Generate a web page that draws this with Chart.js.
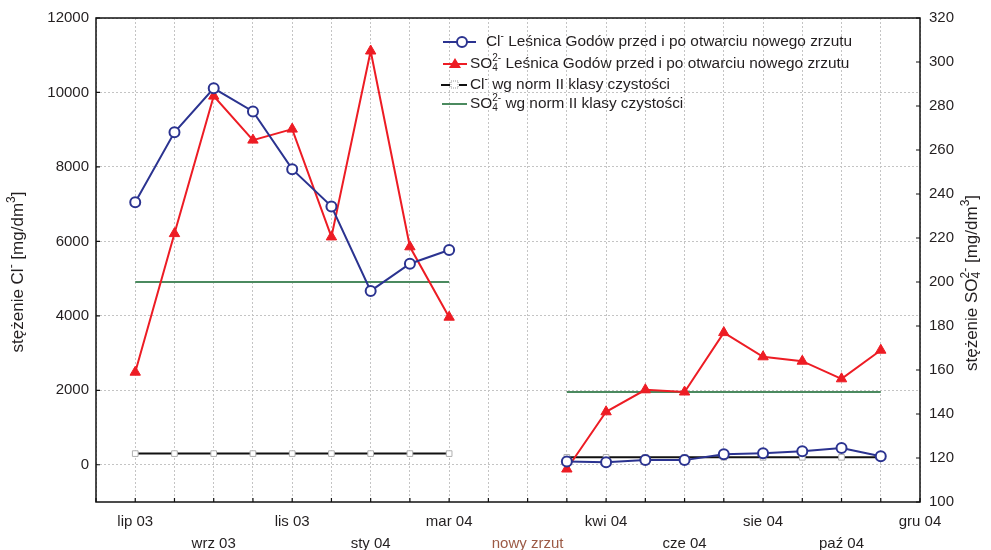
<!DOCTYPE html>
<html lang="pl">
<head>
<meta charset="utf-8">
<title>Leśnica Godów – Cl i SO4</title>
<script src="https://cdn.jsdelivr.net/npm/chart.js@4.4.1/dist/chart.umd.min.js"></script>
<style>
  html, body { margin: 0; padding: 0; background: #fff; }
  #wrap { width: 991px; height: 550px; }
</style>
</head>
<body>
<div id="wrap"><canvas id="chart" width="991" height="550"></canvas></div>
<script>
/* month slots on the x axis: 0 = lip 03 ... 8 = mar 04, 11..19 after the new discharge */
const xBefore = [0, 1, 2, 3, 4, 5, 6, 7, 8];
const xAfter = [11, 12, 13, 14, 15, 16, 17, 18, 19];

/* Cl- [mg/dm3], left axis */
const clBefore = [7050, 8930, 10110, 9490, 7940, 6940, 4670, 5400, 5770];
const clAfter = [90, 70, 130, 125, 280, 310, 360, 450, 230];

/* SO4 2- [mg/dm3], right axis */
const so4Before = [159, 222, 284.5, 264.5, 269.5, 220.5, 305, 216, 184];
const so4After = [115, 141, 151, 150, 177, 166, 164, 156, 169];

/* norm values (class II) */
const clNorm = [300, 200];
const so4Norm = [200, 150];

/* bottom tick labels */
const tickPos = [0, 2, 4, 6, 8, 10, 12, 14, 16, 18, 20];
const tickText = ["lip 03", "wrz 03", "lis 03", "sty 04", "mar 04", "nowy zrzut",
                  "kwi 04", "cze 04", "sie 04", "paź 04", "gru 04"];

const leftTicks = [0, 2000, 4000, 6000, 8000, 10000, 12000];

const FONT = "'Liberation Sans', Arial, sans-serif";
const TXT = "#231f20";
const BLUE = "#2b3390";
const RED = "#ed1c24";
const GREEN = "#4b8a5f";
const BLACK = "#111";

function joinHalves(xa, ya, xb, yb) {
  const pts = xa.map((x, i) => ({ x, y: ya[i] }));
  pts.push({ x: 9.5, y: null });
  return pts.concat(xb.map((x, i) => ({ x, y: yb[i] })));
}
function flat(xa, va, xb, vb) {
  return joinHalves(xa, xa.map(() => va), xb, xb.map(() => vb));
}

/* draw text with super/subscripts; parts: {t}, {sup}, {sub, sup} */
function richWidth(ctx, parts, size) {
  let w = 0;
  for (const p of parts) {
    if (p.t !== undefined) { ctx.font = size + "px " + FONT; w += ctx.measureText(p.t).width; }
    else {
      ctx.font = Math.round(size * 0.68) + "px " + FONT;
      w += Math.max(ctx.measureText(p.sup || "").width, ctx.measureText(p.sub || "").width);
    }
  }
  return w;
}
function drawRich(ctx, parts, x, y, size) {
  ctx.textBaseline = "middle";
  ctx.textAlign = "left";
  for (const p of parts) {
    if (p.t !== undefined) {
      ctx.font = size + "px " + FONT;
      ctx.fillText(p.t, x, y);
      x += ctx.measureText(p.t).width;
    } else {
      ctx.font = Math.round(size * 0.68) + "px " + FONT;
      let w = 0;
      if (p.sup) { ctx.fillText(p.sup, x, y - size * 0.38); w = ctx.measureText(p.sup).width; }
      if (p.sub) { ctx.fillText(p.sub, x, y + size * 0.3); w = Math.max(w, ctx.measureText(p.sub).width); }
      x += w;
    }
  }
  return x;
}

const leftTitle = [{ t: "stężenie Cl" }, { sup: "-" }, { t: " [mg/dm" }, { sup: "3" }, { t: "]" }];
const rightTitle = [{ t: "stężenie SO" }, { sub: "4", sup: "2-" }, { t: " [mg/dm" }, { sup: "3" }, { t: "]" }];
const legendRows = [
  [{ t: "Cl" }, { sup: "-" }, { t: " Leśnica Godów przed i po otwarciu nowego zrzutu" }],
  [{ t: "SO" }, { sub: "4", sup: "2-" }, { t: " Leśnica Godów przed i po otwarciu nowego zrzutu" }],
  [{ t: "Cl" }, { sup: "-" }, { t: " wg norm II klasy czystości" }],
  [{ t: "SO" }, { sub: "4", sup: "2-" }, { t: " wg norm II klasy czystości" }]
];

const decor = {
  id: "decor",
  afterDraw(chart) {
    const ctx = chart.ctx;
    const a = chart.chartArea;
    const { x, y, y1 } = chart.scales;
    ctx.save();
    // frame
    ctx.strokeStyle = BLACK;
    ctx.lineWidth = 1.5;
    ctx.strokeRect(a.left, a.top, a.right - a.left, a.bottom - a.top);
    // inward ticks
    ctx.lineWidth = 1.2;
    ctx.beginPath();
    for (let i = -1; i <= 20; i++) {
      const px = x.getPixelForValue(i);
      ctx.moveTo(px, a.bottom); ctx.lineTo(px, a.bottom - 4);
    }
    leftTicks.forEach(v => {
      const py = y.getPixelForValue(v);
      ctx.moveTo(a.left, py); ctx.lineTo(a.left + 4, py);
    });
    for (let v = 100; v <= 320; v += 20) {
      const py = y1.getPixelForValue(v);
      ctx.moveTo(a.right, py); ctx.lineTo(a.right - 4, py);
    }
    ctx.stroke();

    // axis titles
    ctx.fillStyle = TXT;
    const TS = 17;
    ctx.save();
    ctx.translate(18, 272);
    ctx.rotate(-Math.PI / 2);
    drawRich(ctx, leftTitle, -richWidth(ctx, leftTitle, TS) / 2, 0, TS);
    ctx.restore();
    ctx.save();
    ctx.translate(972, 283);
    ctx.rotate(-Math.PI / 2);
    drawRich(ctx, rightTitle, -richWidth(ctx, rightTitle, TS) / 2, 0, TS);
    ctx.restore();

    // legend
    const rowsY = [42, 64, 85, 104];
    rowsY.forEach((ry, i) => {
      ctx.lineWidth = 2;
      if (i === 0) {
        ctx.strokeStyle = BLUE;
        ctx.beginPath(); ctx.moveTo(443, ry); ctx.lineTo(476, ry); ctx.stroke();
        ctx.fillStyle = "#fff";
        ctx.beginPath(); ctx.arc(462, ry, 5, 0, Math.PI * 2); ctx.fill(); ctx.stroke();
      } else if (i === 1) {
        ctx.strokeStyle = RED;
        ctx.beginPath(); ctx.moveTo(443, ry); ctx.lineTo(467, ry); ctx.stroke();
        ctx.fillStyle = RED;
        ctx.beginPath(); ctx.moveTo(455, ry - 6); ctx.lineTo(461, ry + 4); ctx.lineTo(449, ry + 4); ctx.closePath(); ctx.fill();
      } else if (i === 2) {
        ctx.strokeStyle = BLACK;
        ctx.beginPath(); ctx.moveTo(441, ry); ctx.lineTo(450, ry); ctx.moveTo(459, ry); ctx.lineTo(467, ry); ctx.stroke();
        ctx.strokeStyle = "#999"; ctx.lineWidth = 1;
        ctx.setLineDash([1, 1]);
        ctx.strokeRect(451, ry - 4, 7, 7);
        ctx.setLineDash([]);
      } else {
        ctx.strokeStyle = GREEN;
        ctx.beginPath(); ctx.moveTo(442, ry); ctx.lineTo(467, ry); ctx.stroke();
      }
      ctx.fillStyle = TXT;
      drawRich(ctx, legendRows[i], i === 0 ? 486 : 470, ry, 15.4);
    });
    ctx.restore();
  }
};

new Chart(document.getElementById("chart"), {
  type: "line",
  data: {
    datasets: [
      {
        label: "Cl- Leśnica Godów",
        data: joinHalves(xBefore, clBefore, xAfter, clAfter),
        yAxisID: "y",
        borderColor: BLUE, borderWidth: 2,
        pointStyle: "circle", pointRadius: 5, pointBorderWidth: 2,
        pointBackgroundColor: "#fff", pointBorderColor: BLUE,
        order: 0
      },
      {
        label: "SO4 Leśnica Godów",
        data: joinHalves(xBefore, so4Before, xAfter, so4After),
        yAxisID: "y1",
        borderColor: RED, borderWidth: 2,
        pointStyle: "triangle", pointRadius: 6, pointBorderWidth: 1,
        pointBackgroundColor: RED, pointBorderColor: RED,
        order: 1
      },
      {
        label: "Cl- norma",
        data: flat(xBefore, clNorm[0], xAfter, clNorm[1]),
        yAxisID: "y",
        borderColor: BLACK, borderWidth: 2,
        pointStyle: "rect", pointRadius: 4, pointBorderWidth: 1,
        pointBackgroundColor: "#fff", pointBorderColor: "#b0b0b0",
        order: 2
      },
      {
        label: "SO4 norma",
        data: flat(xBefore, so4Norm[0], xAfter, so4Norm[1]),
        yAxisID: "y1",
        borderColor: GREEN, borderWidth: 2,
        pointRadius: 0,
        order: 3
      }
    ]
  },
  options: {
    responsive: false,
    animation: false,
    spanGaps: false,
    layout: { padding: { top: 18, left: 0, right: 0, bottom: 0 } },
    plugins: { legend: { display: false }, tooltip: { enabled: false } },
    scales: {
      x: {
        type: "linear", position: "bottom", min: -1, max: 20,
        afterBuildTicks: s => { s.ticks = []; for (let i = -1; i <= 20; i++) s.ticks.push({ value: i }); },
        afterFit: s => { s.height = 48; },
        grid: { color: "#c4c4c4", lineWidth: 1, drawTicks: false },
        border: { display: false, dash: [2, 2] },
        ticks: {
          autoSkip: false, maxRotation: 0, padding: 9,
          font: { family: FONT, size: 15, lineHeight: 1.45 },
          color: c => (c.tick && c.tick.value === 10 ? "#9c5a45" : TXT),
          callback: v => {
            const k = tickPos.indexOf(v);
            if (k < 0) return "";
            return k % 2 === 0 ? [tickText[k], ""] : ["", tickText[k]];
          }
        }
      },
      y: {
        position: "left", min: -1000, max: 12000,
        afterBuildTicks: s => { s.ticks = leftTicks.map(v => ({ value: v })); },
        afterFit: s => { s.width = 96; },
        grid: { color: "#c4c4c4", lineWidth: 1, drawTicks: false },
        border: { display: false, dash: [2, 2] },
        ticks: { padding: 7, color: TXT, font: { family: FONT, size: 15 }, callback: v => String(v) }
      },
      y1: {
        position: "right", min: 100, max: 320,
        ticks: { stepSize: 20, padding: 9, color: TXT, font: { family: FONT, size: 15 }, callback: v => String(v) },
        afterFit: s => { s.width = 71; },
        grid: { drawOnChartArea: false, drawTicks: false },
        border: { display: false }
      }
    }
  },
  plugins: [decor]
});
</script>
</body>
</html>
